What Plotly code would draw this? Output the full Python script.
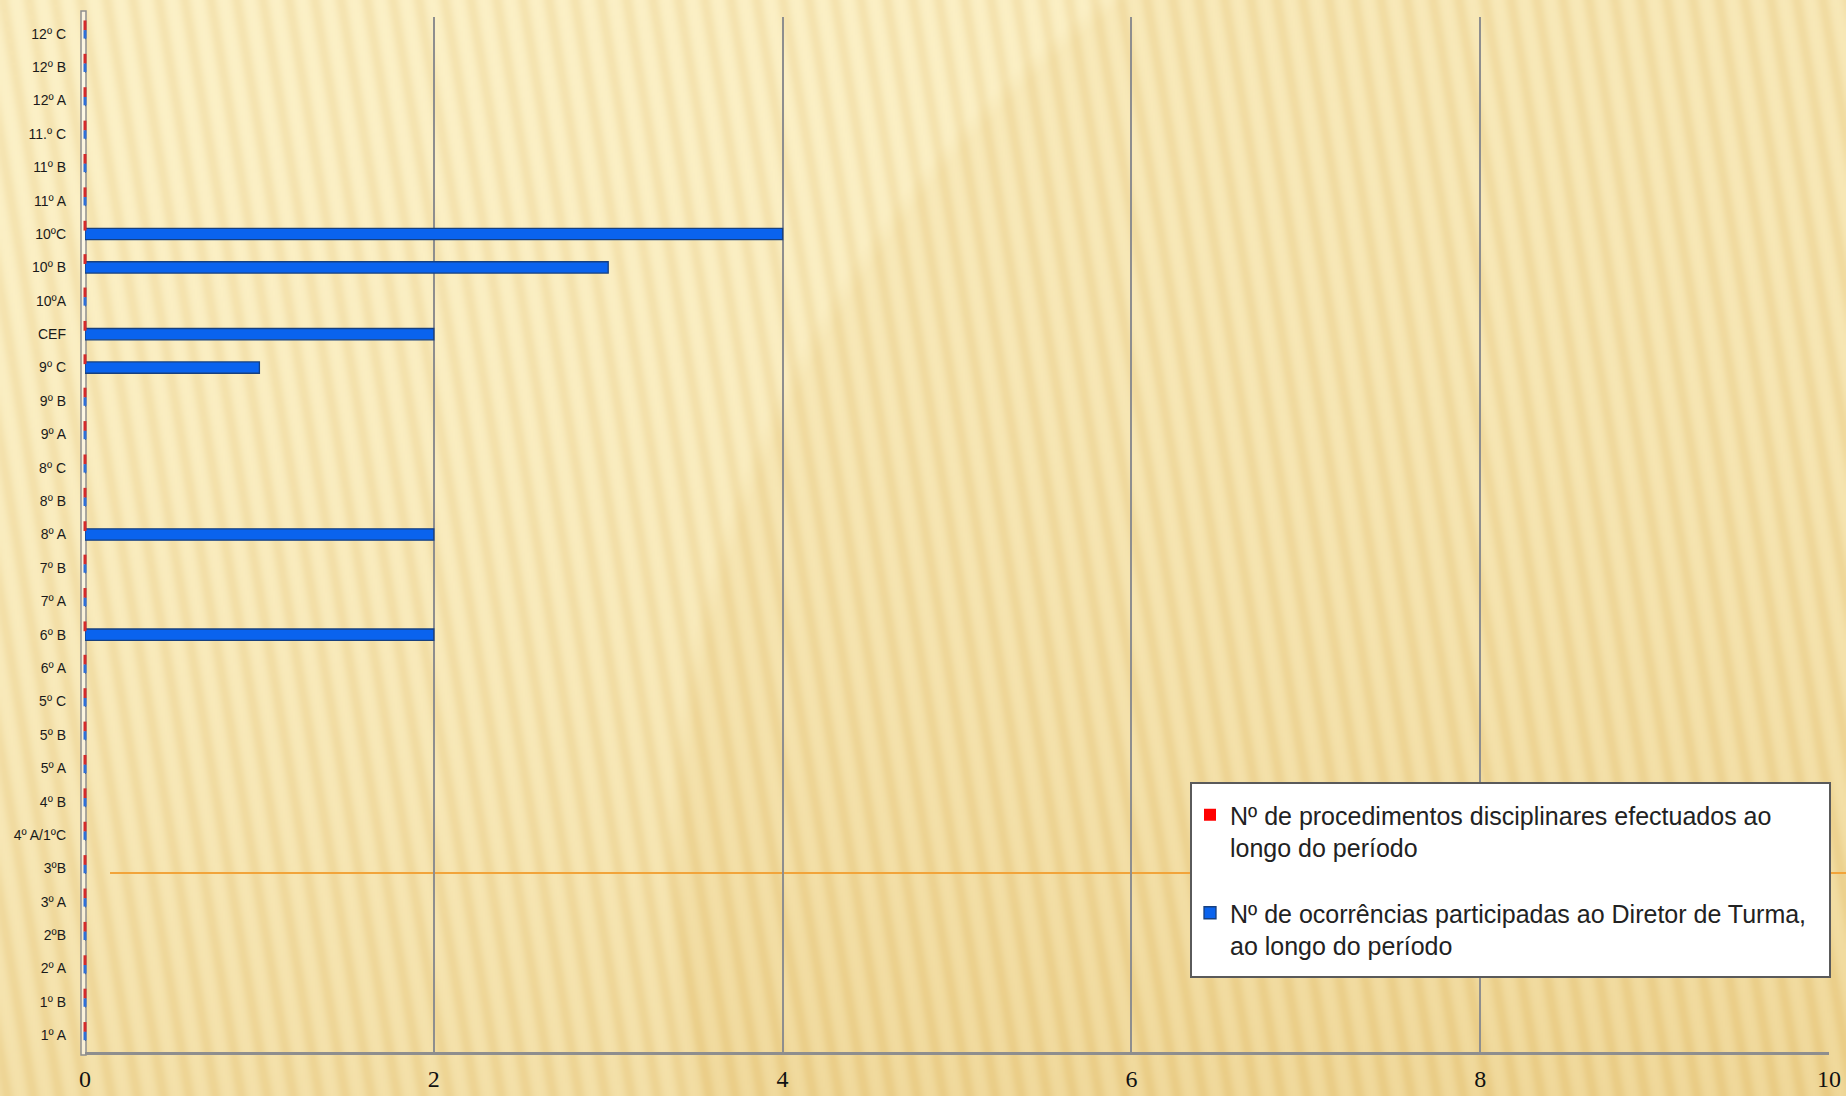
import base64
import struct
import zlib

import numpy as np
import plotly.graph_objects as go

# ---------------- data ----------------
categories = [
    "1º A", "1º B", "2º A", "2ºB", "3º A", "3ºB", "4º A/1ºC", "4º B",
    "5º A", "5º B", "5º C", "6º A", "6º B", "7º A", "7º B", "8º A",
    "8º B", "8º C", "9º A", "9º B", "9º C", "CEF", "10ºA", "10º B",
    "10ºC", "11º A", "11º B", "11.º C", "12º A", "12º B", "12º C",
]
procedimentos = [0] * 31
ocorrencias = [0, 0, 0, 0, 0, 0, 0, 0,
               0, 0, 0, 0, 2, 0, 0, 2,
               0, 0, 0, 0, 1, 2, 0, 3,
               4, 0, 0, 0, 0, 0, 0]
x_ticks = [0, 2, 4, 6, 8, 10]

name_red = "Nº de procedimentos disciplinares efectuados ao<br>longo do período"
name_blue = "Nº de ocorrências participadas ao Diretor de Turma,<br>ao longo do período"

# ---------------- geometry ----------------
W, H = 1846, 1096
ML, MR, MT, MB = 85, 17, 17, 44
PW, PH = W - ML - MR, H - MT - MB


# ---------------- background image (slide texture) ----------------
def make_background(w, h):
    yy, xx = np.mgrid[0:h, 0:w].astype(float)
    u = xx / w
    v = yy / h
    light = np.array([252, 241, 199], dtype=float)
    dark = np.array([238, 212, 146], dtype=float)
    t = 0.10 * u + 0.55 * v ** 1.8
    cx, cy, r = 0.96 * w, 0.80 * h, 0.60 * w
    d = np.sqrt((xx - cx) ** 2 + (yy - cy) ** 2)
    disc = np.clip((r - d) / (0.01 * w), 0, 1)
    t = np.clip(t + 0.20 * disc, 0, 1)
    base = light[None, None, :] * (1 - t[..., None]) + dark[None, None, :] * t[..., None]
    xe = xx + (h - yy) * 0.17
    s = 0.5 + 0.5 * np.sin(2 * np.pi * xe / 13.0)
    s = s ** 1.5
    stripe = np.array([6, 12, 21], dtype=float)
    img = base - s[..., None] * stripe[None, None, :]
    return np.clip(img, 0, 255).astype(np.uint8)


def png_uri(arr):
    h, w, _ = arr.shape
    raw = b"".join(b"\x00" + arr[i].tobytes() for i in range(h))

    def chunk(tag, data):
        c = struct.pack(">I", len(data)) + tag + data
        return c + struct.pack(">I", zlib.crc32(tag + data) & 0xFFFFFFFF)

    png = (b"\x89PNG\r\n\x1a\n"
           + chunk(b"IHDR", struct.pack(">IIBBBBB", w, h, 8, 2, 0, 0, 0))
           + chunk(b"IDAT", zlib.compress(raw, 9))
           + chunk(b"IEND", b""))
    return "data:image/png;base64," + base64.b64encode(png).decode()


bg = png_uri(make_background(W // 2, H // 2))

# ---------------- figure ----------------
fig = go.Figure()
fig.add_trace(go.Bar(
    y=categories, x=ocorrencias, orientation="h", name=name_blue,
    width=0.34, offset=-0.17,
    marker=dict(color="#0a63ee", line=dict(color="#17407f", width=1.3)),
    legendgroup="b", legendrank=2,
))
fig.add_trace(go.Bar(
    y=categories, x=procedimentos, orientation="h", name=name_red,
    width=0.2, offset=0.12,
    marker=dict(color="#ff0000", line=dict(color="#a01010", width=0)),
    legendgroup="a", legendrank=1,
))

# small "depth" stubs of the zero-length 3D bars at the wall
idx = list(range(len(categories)))
red_x = [v for v in procedimentos if v == 0]
red_y = [i + 0.25 for i, v in zip(idx, procedimentos) if v == 0]
blue_x = [v for v in ocorrencias if v == 0]
blue_y = [i - 0.02 for i, v in zip(idx, ocorrencias) if v == 0]
fig.add_trace(go.Scatter(
    x=red_x, y=red_y, yaxis="y2", mode="markers", showlegend=False, hoverinfo="skip",
    cliponaxis=False,
    marker=dict(symbol="line-ns", size=7, line=dict(width=3, color="#d42a2a")),
))
fig.add_trace(go.Scatter(
    x=blue_x, y=blue_y, yaxis="y2", mode="markers", showlegend=False, hoverinfo="skip",
    cliponaxis=False,
    marker=dict(symbol="line-ns", size=6, line=dict(width=3, color="#2f6fd6")),
))

fig.update_layout(
    width=W, height=H,
    margin=dict(l=ML, r=MR, t=MT, b=MB, autoexpand=False),
    paper_bgcolor="#f8e8b4",
    plot_bgcolor="rgba(0,0,0,0)",
    barmode="overlay",
    showlegend=True,
    legend=dict(
        x=(1190 - ML) / PW, y=1 - (792 - MT) / PH, xanchor="left", yanchor="top",
        bgcolor="rgba(0,0,0,0)", borderwidth=0, valign="top",
        font=dict(family="Liberation Sans", size=25, color="#222222"),
        tracegroupgap=30, traceorder="grouped",
        itemclick=False, itemdoubleclick=False,
    ),
    xaxis=dict(
        range=[0, 10], tickvals=x_ticks, ticktext=[str(v) for v in x_ticks],
        showgrid=True, gridcolor="#8e8e8e", gridwidth=2,
        zeroline=False, showline=True, linecolor="#8e8e8e", linewidth=3,
        ticks="", ticklabelstandoff=3, automargin=False,
        tickfont=dict(family="Liberation Sans Narrow", size=24, color="#111111"),
        fixedrange=True,
    ),
    yaxis=dict(
        categoryorder="array", categoryarray=categories,
        range=[-0.5, len(categories) - 0.5],
        showgrid=False, zeroline=False, showline=False,
        ticks="", ticklabelstandoff=18, automargin=False,
        tickfont=dict(family="Liberation Sans", size=14, color="#1a1a1a"),
        fixedrange=True,
    ),
    yaxis2=dict(
        overlaying="y", range=[-0.5, len(categories) - 0.5], visible=False,
        fixedrange=True, automargin=False,
    ),
    images=[dict(
        source=bg, xref="paper", yref="paper",
        x=-ML / PW, y=1 + MT / PH, sizex=W / PW, sizey=H / PH,
        xanchor="left", yanchor="top", sizing="stretch", layer="below",
    )],
    shapes=[
        dict(type="line", xref="paper", yref="paper",
             x0=(110 - ML) / PW, x1=(W - ML) / PW,
             y0=1 - (873 - MT) / PH, y1=1 - (873 - MT) / PH,
             line=dict(color="#f2a43a", width=2), layer="below"),
        dict(type="rect", xref="paper", yref="paper",
             x0=-4 / PW, x1=1 / PW, y0=-3 / PH, y1=1.0 + 6 / PH,
             fillcolor="rgba(255,255,255,0.55)", line=dict(color="#8e8e8e", width=1.5),
             layer="below"),
        dict(type="rect", xref="paper", yref="paper",
             x0=(1191 - ML) / PW, x1=(1830 - ML) / PW,
             y0=1 - (977 - MT) / PH, y1=1 - (783 - MT) / PH,
             fillcolor="#ffffff", line=dict(color="#5a5a5a", width=2),
             layer="above"),
    ],
)

fig.write_html(
    "out.html",
    config=dict(displayModeBar=False),
    post_script="document.body.style.margin='0';document.body.style.overflow='hidden';",
)
